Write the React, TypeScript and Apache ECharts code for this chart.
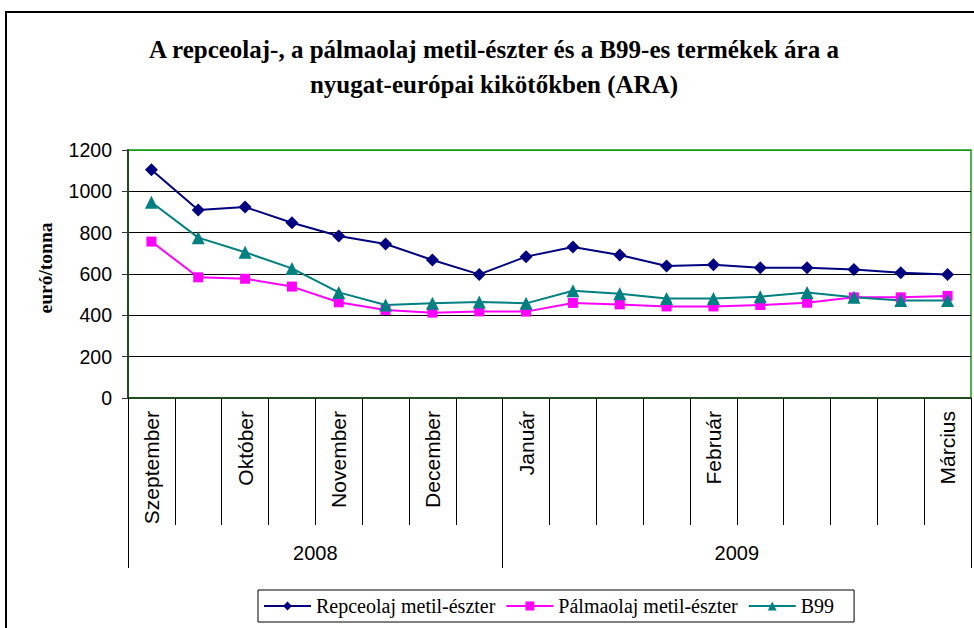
import React, { useEffect, useRef } from "react";
import * as echarts from "echarts";

const titleText =
  "A repceolaj-, a pálmaolaj metil-észter és a B99-es termékek ára a\nnyugat-európai kikötőkben (ARA)";
const yAxisName = "euró/tonna";
const monthLabels = [
  "Szeptember", "", "Október", "", "November", "", "December", "",
  "Január", "", "", "", "Február", "", "", "", "", "Március",
];
// year axis: 19 boundary positions, labels centred in each year span
const yearLabels = [
  "", "", "", "", "2008", "", "", "", "", "", "", "", "", "2009", "", "", "", "", "",
];
const yearBoundaries = [0, 8, 18];
const seriesNames = ["Repceolaj metil-észter", "Pálmaolaj metil-észter", "B99"];
const repceolaj = [1105, 910, 924, 848, 784, 745, 668, 598, 684, 731, 692, 639, 645, 630, 630, 622, 606, 598];
const palmaolaj = [757, 584, 577, 539, 463, 426, 413, 419, 418, 460, 453, 443, 443, 450, 461, 487, 487, 494];
const b99 = [947, 776, 705, 627, 511, 450, 458, 465, 458, 519, 505, 482, 482, 490, 511, 487, 472, 472];
const yMin = 0;
const yMax = 1200;
const yInterval = 200;

export default function App() {
  const ref = useRef<HTMLDivElement>(null);
  useEffect(() => {
    if (!ref.current) return;
    const chart = echarts.init(ref.current, undefined, { renderer: "svg" });
    const sans = "'Liberation Sans', Arial, sans-serif";
    const serif = "'Liberation Serif', 'Times New Roman', serif";
    chart.setOption({
      animation: false,
      backgroundColor: "#fff",
      title: {
        text: titleText,
        left: 494,
        top: 32,
        textAlign: "center",
        padding: 0,
        textStyle: {
          fontFamily: serif,
          fontWeight: "bold",
          fontSize: 25,
          lineHeight: 35,
          color: "#000",
        },
      },
      graphic: [
        {
          type: "rect",
          shape: { x: 6, y: 12, width: 1000, height: 700 },
          style: { fill: "none", stroke: "#000", lineWidth: 2 },
          silent: true,
          z: -10,
        },
      ],
      grid: {
        left: 128,
        top: 150,
        width: 845,
        height: 248,
        show: true,
        borderColor: "#139a13",
        borderWidth: 1.5,
        backgroundColor: "transparent",
      },
      legend: {
        data: seriesNames,
        left: 258,
        top: 590,
        orient: "horizontal",
        itemWidth: 47,
        itemHeight: 11,
        itemGap: 10,
        padding: [6, 20, 6, 5],
        borderColor: "#000",
        borderWidth: 1,
        backgroundColor: "#fff",
        textStyle: { fontFamily: serif, fontSize: 20, color: "#000" },
      },
      xAxis: [
        {
          type: "category",
          data: monthLabels,
          boundaryGap: true,
          position: "bottom",
          axisLine: { show: true, lineStyle: { color: "#1e4d1e", width: 2 } },
          axisTick: { show: true, interval: 0, length: 127, lineStyle: { color: "#000" } },
          axisLabel: {
            interval: 0,
            rotate: 90,
            margin: 13,
            fontFamily: sans,
            fontSize: 21,
            color: "#000",
          },
          splitLine: { show: false },
        },
        {
          type: "category",
          data: yearLabels,
          boundaryGap: false,
          position: "bottom",
          offset: 127,
          axisLine: { show: false },
          axisTick: {
            show: true,
            interval: (i: number) => yearBoundaries.indexOf(i) >= 0,
            length: 43,
            lineStyle: { color: "#000" },
          },
          axisLabel: {
            interval: 0,
            margin: 18,
            fontFamily: sans,
            fontSize: 20,
            color: "#000",
          },
          splitLine: { show: false },
        },
      ],
      yAxis: {
        type: "value",
        min: yMin,
        max: yMax,
        interval: yInterval,
        name: yAxisName,
        nameLocation: "middle",
        nameGap: 73,
        nameTextStyle: {
          fontFamily: serif,
          fontWeight: "bold",
          fontSize: 19.5,
          color: "#000",
          padding: [0, 0, 0, 12],
        },
        axisLine: { show: true, lineStyle: { color: "#1e4d1e", width: 2 } },
        axisTick: { show: true, length: 6, lineStyle: { color: "#333" } },
        axisLabel: {
          margin: 16,
          fontFamily: sans,
          fontSize: 19.5,
          color: "#000",
          formatter: (v: number) => String(v),
        },
        splitLine: {
          show: true,
          lineStyle: {
            color: ["#1e4d1e", "#000", "#000", "#000", "#000", "#000", "#139a13"],
            width: 1,
          },
        },
      },
      series: [
        {
          name: seriesNames[0],
          type: "line",
          data: repceolaj,
          symbol: "diamond",
          symbolSize: 13,
          itemStyle: { color: "#000080" },
          lineStyle: { color: "#000080", width: 2 },
        },
        {
          name: seriesNames[1],
          type: "line",
          data: palmaolaj,
          symbol: "rect",
          symbolSize: 10,
          itemStyle: { color: "#ff00ff" },
          lineStyle: { color: "#ff00ff", width: 2 },
        },
        {
          name: seriesNames[2],
          type: "line",
          data: b99,
          symbol: "triangle",
          symbolSize: 13,
          itemStyle: { color: "#008080" },
          lineStyle: { color: "#008080", width: 2 },
        },
      ],
    });
    return () => chart.dispose();
  }, []);
  return (
    <div
      ref={ref}
      style={{ position: "absolute", left: 0, top: 0, width: 974, height: 628 }}
    />
  );
}
